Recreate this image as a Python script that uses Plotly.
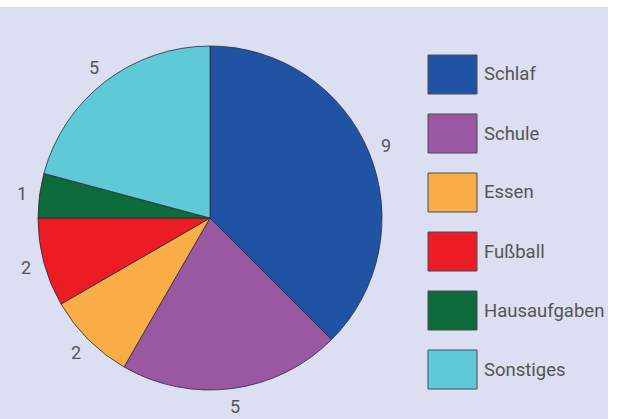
import math
import plotly.graph_objects as go

categories = ["Schlaf", "Schule", "Essen", "Fußball", "Hausaufgaben", "Sonstiges"]
values = [9, 5, 2, 2, 1, 5]
colors = ["#2153a4", "#9b58a2", "#f9ad46", "#ec1c25", "#0d6a3b", "#5fc9d8"]

W, H = 621, 419
cx, cy, r = 210, 218, 172
FONT = "Roboto"

fig = go.Figure(go.Pie(
    labels=categories, values=values, sort=False, direction="clockwise", rotation=0,
    marker=dict(colors=colors, line=dict(color="#2b2b3a", width=0.8)),
    textinfo="none",
    showlegend=False, hoverinfo="label+value",
    domain=dict(x=[(cx - r) / W, (cx + r) / W], y=[1 - (cy + r) / H, 1 - (cy - r) / H]),
))

shapes = [dict(type="rect", xref="paper", yref="paper", x0=0, x1=608 / W, y0=0, y1=1 - 7 / H,
               fillcolor="#dbdff1", line=dict(width=0), layer="below")]
annotations = []

# value labels outside the slices, at each slice's mid angle
total = sum(values)
cum = 0
lr = 190
for v in values:
    mid = (cum + v / 2) / total * 2 * math.pi
    cum += v
    x = cx + lr * math.sin(mid)
    y = cy - lr * math.cos(mid)
    annotations.append(dict(xref="paper", yref="paper", x=x / W, y=1 - y / H, text=str(v),
                            showarrow=False, xanchor="center", yanchor="middle",
                            font=dict(size=18, color="#555555", family=FONT)))

for i, (cat, col) in enumerate(zip(categories, colors)):
    y0 = 55 + 59 * i
    shapes.append(dict(type="rect", xref="paper", yref="paper",
                       x0=428 / W, x1=477 / W, y0=1 - (y0 + 39) / H, y1=1 - y0 / H,
                       fillcolor=col, line=dict(color="#4a4a55", width=1)))
    annotations.append(dict(xref="paper", yref="paper", x=482 / W, y=1 - (y0 + 19.5) / H,
                            text=cat, showarrow=False, xanchor="left", yanchor="middle",
                            font=dict(size=18.5, color="#555555", family=FONT)))

fig.update_layout(width=W, height=H, margin=dict(l=0, r=0, t=0, b=0),
                  paper_bgcolor="white", plot_bgcolor="white",
                  shapes=shapes, annotations=annotations)
fig.write_html("out.html", config={"displayModeBar": False},
               post_script="document.body.style.margin='0';")
